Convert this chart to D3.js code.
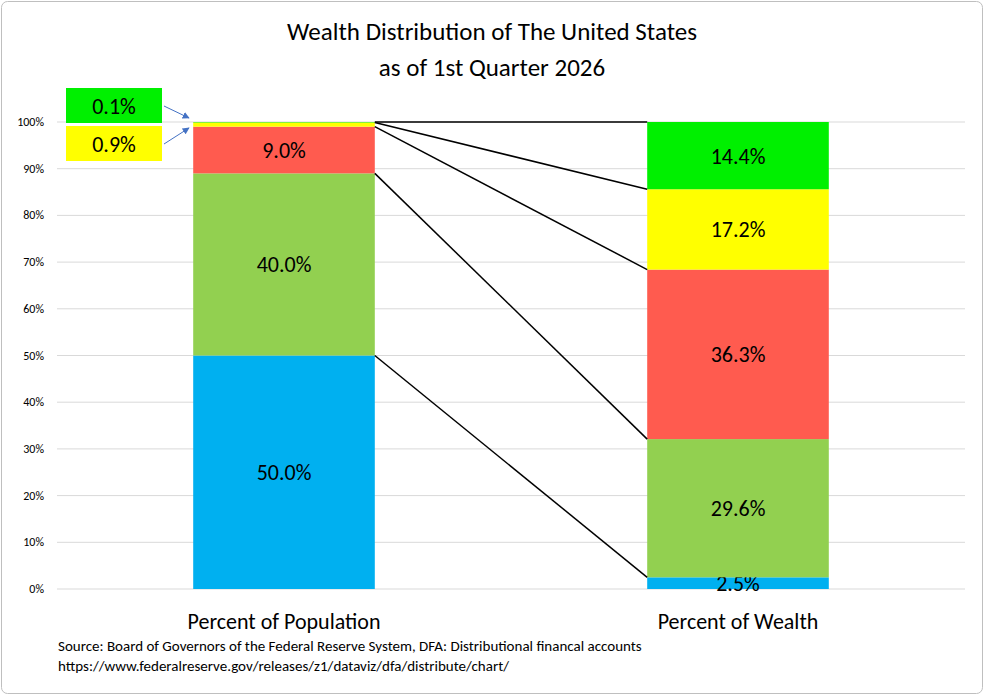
<!DOCTYPE html>
<html><head><meta charset="utf-8">
<script src="https://cdn.jsdelivr.net/npm/d3@7"></script>
<style>body{margin:0;background:#fff}text{font-family:Calibri,Carlito,"Liberation Sans",sans-serif}</style>
</head><body><svg id="c" width="984" height="695"></svg>
<script>
// data
var groups = ["Bottom 50%", "50-90%", "90-99%", "99-99.9%", "Top 0.1%"];
var colors = ["#00B0F0", "#92D050", "#FF5B4F", "#FFFF00", "#00F000"];
var population = [50.0, 39.0, 10.0, 0.9, 0.1];
var popLabels = ["50.0%", "40.0%", "9.0%", "0.9%", "0.1%"];
var wealth = [2.5, 29.6, 36.3, 17.2, 14.4];
var categories = ["Percent of Population", "Percent of Wealth"];
var yTicks = [0,10,20,30,40,50,60,70,80,90,100];

var svg = d3.select("#c");
svg.append("rect").attr("x",1.5).attr("y",1.5).attr("width",981).attr("height",692)
  .attr("rx",6).attr("fill","#fff").attr("stroke","#bfbfbf");

svg.append("text").attr("x",492).attr("y",40).attr("text-anchor","middle").attr("font-size",25).text("Wealth Distribution of The United States");
svg.append("text").attr("x",492).attr("y",76).attr("text-anchor","middle").attr("font-size",25).text("as of 1st Quarter 2026");

var y = d3.scaleLinear().domain([0,100]).range([589,122]);
var x = d3.scaleBand().domain(categories).range([57,965]).paddingInner(0.6).paddingOuter(0.3);

// gridlines + ticks
svg.selectAll(".g").data(yTicks).join("line")
  .attr("x1",57).attr("x2",965).attr("y1",d=>y(d)).attr("y2",d=>y(d))
  .attr("stroke","#d9d9d9").attr("stroke-width",1);
svg.selectAll(".t").data(yTicks).join("text")
  .attr("x",44).attr("y",d=>y(d)+4).attr("text-anchor","end").attr("font-size",12).text(d=>d+"%");

function stack(vals){ var c=0; return vals.map(v=>{var s={y0:c,y1:c+v}; c+=v; return s;}); }
var ps = stack(population), ws = stack(wealth);

function drawBar(cat, st, labels, minShow){
  var bx = x(cat), bw = x.bandwidth();
  st.forEach(function(s,i){
    svg.append("rect").attr("x",bx).attr("width",bw)
      .attr("y",y(s.y1)).attr("height",y(s.y0)-y(s.y1)).attr("fill",colors[i]);
    if (s.y1-s.y0 >= minShow)
      svg.append("text").attr("x",bx+bw/2).attr("y",(y(s.y0)+y(s.y1))/2+8)
        .attr("text-anchor","middle").attr("font-size",22).text(labels[i]);
  });
}
drawBar(categories[0], ps, popLabels, 5);
drawBar(categories[1], ws, wealth.map(d=>d.toFixed(1)+"%"), 0);

// connectors
var lx = x(categories[0]) + x.bandwidth(), rx = x(categories[1]);
ps.forEach(function(s,i){
  svg.append("line").attr("x1",lx).attr("y1",y(s.y1)).attr("x2",rx).attr("y2",y(ws[i].y1))
    .attr("stroke","#000").attr("stroke-width",1.5);
});

svg.selectAll(".cat").data(categories).join("text")
  .attr("x",d=>x(d)+x.bandwidth()/2).attr("y",629).attr("text-anchor","middle").attr("font-size",22).text(d=>d);

// call-out boxes for the thin top segments
var boxes = [{i:4,y:88,tx:189,ty:118},{i:3,y:126,tx:189,ty:128}];
svg.append("defs").append("marker").attr("id","ar").attr("viewBox","0 0 10 10").attr("refX",9).attr("refY",5)
  .attr("markerWidth",7).attr("markerHeight",7).attr("orient","auto")
  .append("path").attr("d","M0,0L10,5L0,10z").attr("fill","#4472C4");
boxes.forEach(function(b){
  svg.append("rect").attr("x",66).attr("y",b.y).attr("width",96).attr("height",35).attr("fill",colors[b.i]);
  svg.append("text").attr("x",114).attr("y",b.y+26).attr("text-anchor","middle").attr("font-size",22).text(popLabels[b.i]);
  svg.append("line").attr("x1",164).attr("y1",b.y+18).attr("x2",b.tx).attr("y2",b.ty)
    .attr("stroke","#4472C4").attr("stroke-width",1).attr("marker-end","url(#ar)");
});

svg.append("text").attr("x",58).attr("y",651).attr("font-size",15).text("Source: Board of Governors of the Federal Reserve System, DFA: Distributional financal accounts");
svg.append("text").attr("x",58).attr("y",671).attr("font-size",15).text("https://www.federalreserve.gov/releases/z1/dataviz/dfa/distribute/chart/");
</script></body></html>
